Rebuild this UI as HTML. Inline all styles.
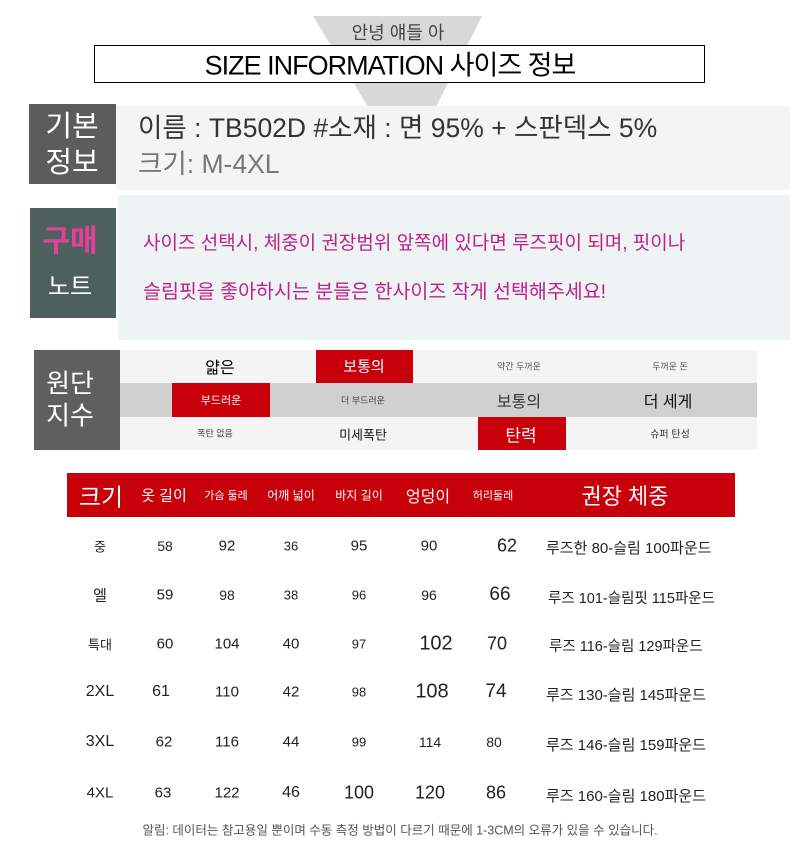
<!DOCTYPE html>
<html><head><meta charset="utf-8"><style>
body{margin:0;width:790px;height:862px;background:#fff;position:relative;overflow:hidden;font-family:"Liberation Sans","Noto Sans CJK KR",sans-serif}
.a{position:absolute;white-space:nowrap}
.c{position:absolute;transform:translate(-50%,-50%);white-space:nowrap}
</style></head><body>
<svg class="a" style="left:0;top:0" width="790" height="200"><polygon points="313,16 482,16 405,168" fill="#d8d8d8"/></svg>
<div class="c" style="left:398px;top:32px;font-size:18px;color:#444">안녕 얘들 아</div>
<div class="a" style="left:94px;top:45px;width:609px;height:36px;border:1px solid #000;background:#fff"></div>
<div class="c" style="left:390px;top:63px;font-size:27px;color:#000;letter-spacing:-1px">SIZE INFORMATION 사이즈 정보</div>

<div class="a" style="left:116px;top:106px;width:674px;height:84px;background:#f3f5f5"></div>
<div class="a" style="left:29px;top:104px;width:87px;height:80px;background:#5c5c5c"></div>
<div class="c" style="left:72px;top:124px;font-size:29px;color:#fff">기본</div>
<div class="c" style="left:72px;top:160px;font-size:29px;color:#fff">정보</div>
<div class="a" style="left:138px;top:106px;font-size:26.5px;color:#333">이름 : TB502D #소재 : 면 95% + 스판덱스 5%</div>
<div class="a" style="left:138px;top:142px;font-size:26.5px;color:#777">크기: M-4XL</div>

<div class="a" style="left:118px;top:195px;width:672px;height:145px;background:#eef3f3"></div>
<div class="a" style="left:30px;top:208px;width:86px;height:110px;background:#4d605e"></div>
<div class="c" style="left:70px;top:238px;font-size:30px;color:#e4409a;font-weight:bold">구매</div>
<div class="c" style="left:70px;top:284px;font-size:24px;color:#fff">노트</div>
<div class="a" style="left:143px;top:228px;font-size:19px;color:#c0208a">사이즈 선택시, 체중이 권장범위 앞쪽에 있다면 루즈핏이 되며, 핏이나</div>
<div class="a" style="left:143px;top:275px;font-size:19.5px;color:#c0208a">슬림핏을 좋아하시는 분들은 한사이즈 작게 선택해주세요!</div>

<div class="a" style="left:120px;top:350px;width:637px;height:33px;background:#f4f4f4"></div>
<div class="a" style="left:120px;top:383px;width:637px;height:34px;background:#d0d0d0"></div>
<div class="a" style="left:120px;top:417px;width:637px;height:33px;background:#f4f4f4"></div>
<div class="a" style="left:34px;top:350px;width:86px;height:100px;background:#5f5f5f"></div>
<div class="c" style="left:70px;top:382px;font-size:26px;color:#fff">원단</div>
<div class="c" style="left:70px;top:414px;font-size:26px;color:#fff">지수</div>
<div class="a" style="left:316px;top:350px;width:97px;height:33px;background:#c8000a"></div>
<div class="a" style="left:172px;top:383px;width:98px;height:34px;background:#c8000a"></div>
<div class="a" style="left:478px;top:417px;width:88px;height:33px;background:#c8000a"></div>
<div class="c" style="left:220px;top:366px;font-size:16px">얇은</div>
<div class="c" style="left:364px;top:366px;font-size:15px;color:#fff">보통의</div>
<div class="c" style="left:519px;top:366px;font-size:9px;color:#555">약간 두꺼운</div>
<div class="c" style="left:670px;top:366px;font-size:9px;color:#555">두꺼운 돈</div>
<div class="c" style="left:221px;top:400px;font-size:11px;color:#fff">부드러운</div>
<div class="c" style="left:363px;top:400px;font-size:9px;color:#444">더 부드러운</div>
<div class="c" style="left:519px;top:400px;font-size:16px;color:#333">보통의</div>
<div class="c" style="left:668px;top:400px;font-size:16px;color:#111">더 세게</div>
<div class="c" style="left:215px;top:433px;font-size:9px;color:#444">폭탄 없음</div>
<div class="c" style="left:363px;top:434px;font-size:13px;color:#111">미세폭탄</div>
<div class="c" style="left:521px;top:434px;font-size:17px;color:#fff">탄력</div>
<div class="c" style="left:670px;top:433px;font-size:10px;color:#333">슈퍼 탄성</div>

<div class="a" style="left:67px;top:473px;width:668px;height:44px;background:#c8000a"></div>
<div class="c" style="left:101px;top:495px;font-size:24px;color:#fff">크기</div>
<div class="c" style="left:164px;top:495px;font-size:15px;color:#fff">옷 길이</div>
<div class="c" style="left:226px;top:495px;font-size:11px;color:#fff">가슴 둘레</div>
<div class="c" style="left:291px;top:495px;font-size:12px;color:#fff">어깨 넓이</div>
<div class="c" style="left:359px;top:495px;font-size:12px;color:#fff">바지 길이</div>
<div class="c" style="left:428px;top:495px;font-size:16px;color:#fff">엉덩이</div>
<div class="c" style="left:493px;top:495px;font-size:11px;color:#fff">허리둘레</div>
<div class="c" style="left:625px;top:495px;font-size:22px;color:#fff">권장 체중</div>

<div style="color:#222">
<div class="c" style="left:100px;top:546px;font-size:13px">중</div>
<div class="c" style="left:165px;top:546px;font-size:14px">58</div>
<div class="c" style="left:227px;top:546px;font-size:15px">92</div>
<div class="c" style="left:291px;top:546px;font-size:13px">36</div>
<div class="c" style="left:359px;top:546px;font-size:15px">95</div>
<div class="c" style="left:429px;top:546px;font-size:15px">90</div>
<div class="c" style="left:507px;top:546px;font-size:18px">62</div>
<div class="a" style="left:546px;top:537px;font-size:15px">루즈한 80-슬림 100파운드</div>

<div class="c" style="left:100px;top:595px;font-size:15px">엘</div>
<div class="c" style="left:165px;top:595px;font-size:15px">59</div>
<div class="c" style="left:227px;top:595px;font-size:14px">98</div>
<div class="c" style="left:291px;top:595px;font-size:13px">38</div>
<div class="c" style="left:359px;top:595px;font-size:13px">96</div>
<div class="c" style="left:429px;top:595px;font-size:14px">96</div>
<div class="c" style="left:500px;top:595px;font-size:19px">66</div>
<div class="a" style="left:548px;top:587px;font-size:14.5px">루즈 101-슬림핏 115파운드</div>

<div class="c" style="left:100px;top:644px;font-size:13px">특대</div>
<div class="c" style="left:165px;top:644px;font-size:15px">60</div>
<div class="c" style="left:227px;top:644px;font-size:15px">104</div>
<div class="c" style="left:291px;top:644px;font-size:15px">40</div>
<div class="c" style="left:359px;top:644px;font-size:13px">97</div>
<div class="c" style="left:436px;top:644px;font-size:20px">102</div>
<div class="c" style="left:497px;top:644px;font-size:18px">70</div>
<div class="a" style="left:549px;top:635px;font-size:14.5px">루즈 116-슬림 129파운드</div>

<div class="c" style="left:100px;top:692px;font-size:16px">2XL</div>
<div class="c" style="left:161px;top:692px;font-size:16px">61</div>
<div class="c" style="left:227px;top:692px;font-size:15px">110</div>
<div class="c" style="left:291px;top:692px;font-size:15px">42</div>
<div class="c" style="left:359px;top:692px;font-size:13px">98</div>
<div class="c" style="left:432px;top:692px;font-size:20px">108</div>
<div class="c" style="left:496px;top:692px;font-size:19px">74</div>
<div class="a" style="left:546px;top:684px;font-size:15px">루즈 130-슬림 145파운드</div>

<div class="c" style="left:100px;top:742px;font-size:16px">3XL</div>
<div class="c" style="left:164px;top:742px;font-size:15px">62</div>
<div class="c" style="left:227px;top:742px;font-size:15px">116</div>
<div class="c" style="left:291px;top:742px;font-size:15px">44</div>
<div class="c" style="left:359px;top:742px;font-size:13px">99</div>
<div class="c" style="left:430px;top:742px;font-size:14px">114</div>
<div class="c" style="left:494px;top:742px;font-size:14px">80</div>
<div class="a" style="left:546px;top:734px;font-size:15px">루즈 146-슬림 159파운드</div>

<div class="c" style="left:100px;top:793px;font-size:15px">4XL</div>
<div class="c" style="left:163px;top:793px;font-size:15px">63</div>
<div class="c" style="left:227px;top:793px;font-size:15px">122</div>
<div class="c" style="left:291px;top:793px;font-size:16px">46</div>
<div class="c" style="left:359px;top:793px;font-size:18px">100</div>
<div class="c" style="left:430px;top:793px;font-size:18px">120</div>
<div class="c" style="left:496px;top:793px;font-size:18px">86</div>
<div class="a" style="left:546px;top:785px;font-size:15px">루즈 160-슬림 180파운드</div>
</div>
<div class="c" style="left:400px;top:829px;font-size:12.5px;color:#555">알림: 데이터는 참고용일 뿐이며 수동 측정 방법이 다르기 때문에 1-3CM의 오류가 있을 수 있습니다.</div>
</body></html>
